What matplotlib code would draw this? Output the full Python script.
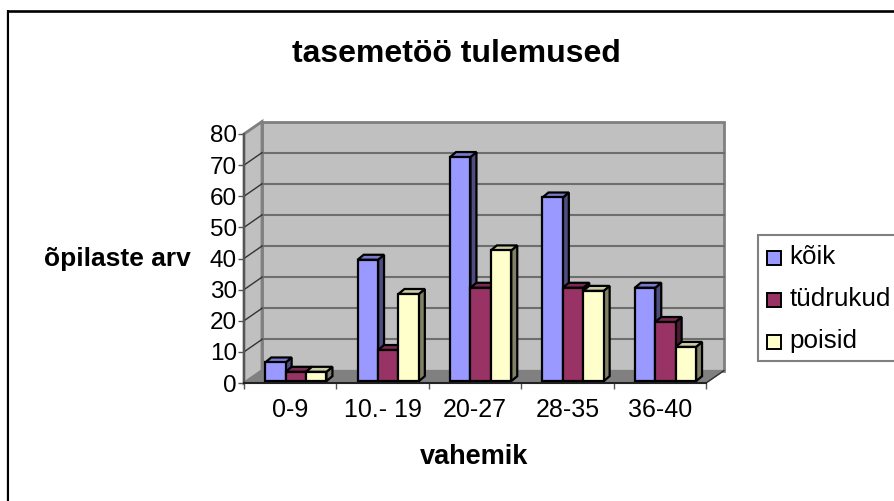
import numpy as np
import matplotlib
matplotlib.use('Agg')
import matplotlib.pyplot as plt
from matplotlib.patches import Polygon, Rectangle
from matplotlib.colors import to_rgb

categories = ['0-9', '10.- 19', '20-27', '28-35', '36-40']
series_names = ['kõik', 'tüdrukud', 'poisid']
koik = [6, 39, 72, 59, 30]
tydrukud = [3, 10, 30, 30, 19]
poisid = [3, 28, 42, 29, 11]
y_ticks = [0, 10, 20, 30, 40, 50, 60, 70, 80]
colors = ['#9999FF', '#993366', '#FFFFCC']

W, H = 895, 501
plt.rcParams['font.family'] = ['Liberation Sans', 'DejaVu Sans']
fig = plt.figure(figsize=(W / 100, H / 100), dpi=100)
# front plane of the fake 3d box, in pixels
L, R, T, B = 244, 706, 134, 383
ax = fig.add_axes([L / W, 1 - B / H, (R - L) / W, (B - T) / H])
ax.set_xlim(0, 5)
ax.set_ylim(0, 80)
ax.patch.set_visible(False)
for s in ax.spines.values():
    s.set_visible(False)

# depth of the box, in data units
dx = 18 / 92.4
dy = 4.0
wall = '#C0C0C0'
grid = '#6E6E6E'
edge = '#808080'


def poly(pts, fc, ec, lw=1.5, z=1):
    ax.add_patch(Polygon(pts, closed=True, fc=fc, ec=ec, lw=lw, zorder=z, clip_on=False,
                         joinstyle='miter'))


def shade(c, f):
    return tuple(v * f for v in to_rgb(c))


poly([(dx, dy), (5 + dx, dy), (5 + dx, 80 + dy), (dx, 80 + dy)], wall, edge, 2)
poly([(0, 0), (dx, dy), (dx, 80 + dy), (0, 80)], wall, edge, 2)
poly([(0, 0), (5, 0), (5 + dx, dy), (dx, dy)], '#808080', '#808080', 1)
for v in y_ticks[1:-1]:
    ax.plot([dx, 5 + dx], [v + dy, v + dy], color=grid, lw=1.5, zorder=2, clip_on=False)
    ax.plot([0, dx], [v, v + dy], color='#333333', lw=1, zorder=2, clip_on=False)
ax.plot([0, dx], [80, 80 + dy], color=edge, lw=1.5, zorder=2, clip_on=False)
ax.plot([5, 5 + dx], [0, dy], color='#333333', lw=1, zorder=2, clip_on=False)
ax.plot([0, 0], [0, 80], color='#555555', lw=1.5, zorder=3, clip_on=False)
ax.plot([0, 5], [0, 0], color='#222222', lw=1.5, zorder=3, clip_on=False)

# left to right keeps the overlap right
bw = 20.4 / 92.4
margin = 0.165
ox, oy = 6 / 92.4, 0.6
bx, by = 6 / 92.4, 1.6
for i in range(len(categories)):
    for j, vals in enumerate([koik, tydrukud, poisid]):
        x0 = i + margin + j * bw + ox
        x1 = x0 + bw
        v = vals[i]
        c = colors[j]
        z = 5 + i * 3 + j
        poly([(x1, oy), (x1 + bx, oy + by), (x1 + bx, v + oy + by), (x1, v + oy)],
             shade(c, 0.5), 'black', 1.6, z)
        poly([(x0, v + oy), (x1, v + oy), (x1 + bx, v + oy + by), (x0 + bx, v + oy + by)],
             shade(c, 0.8), 'black', 1.6, z)
        poly([(x0, oy), (x1, oy), (x1, v + oy), (x0, v + oy)], c, 'black', 1.6, z)

ax.set_xticks(range(6))
ax.set_xticklabels([])
ax.set_xticks(np.arange(5) + 0.5, minor=True)
ax.set_xticklabels(categories, minor=True, fontsize=18)
ax.tick_params(axis='x', which='major', length=4.5, width=1, color='#555555')
ax.tick_params(axis='x', which='minor', length=0, pad=11)
ax.set_yticks(y_ticks)
ax.set_yticklabels([str(v) for v in y_ticks], fontsize=17.5)
ax.tick_params(axis='y', length=4, width=1, color='#555555', pad=1)

# texts
fig.text(456 / W, 1 - 54 / H, 'tasemetöö tulemused', fontsize=23, fontweight='bold',
         ha='center', va='center')
fig.text(474 / W, 1 - 457 / H, 'vahemik', fontsize=19.5, fontweight='bold',
         ha='center', va='center')
fig.text(117 / W, 1 - 259 / H, 'õpilaste arv', fontsize=19, fontweight='bold',
         ha='center', va='center')

# legend by hand so the box runs off the right edge like the original
bg = fig.add_axes([0, 0, 1, 1], zorder=-1)
bg.set_xlim(0, W)
bg.set_ylim(H, 0)
bg.axis('off')
bg.plot([7.2, 7.2], [10, 501], color='#808080', lw=1, solid_capstyle='butt')
bg.plot([8.4, 8.4], [10, 501], color='black', lw=1.5, solid_capstyle='butt')
bg.plot([7, 895], [11.2, 11.2], color='black', lw=1.9, solid_capstyle='butt')
bg.add_patch(Rectangle((758, 235), 140, 126, fc='white', ec='#808080', lw=1.5))
for k, name in enumerate(series_names):
    yy = 258 + k * 42
    bg.add_patch(Rectangle((767.5, yy - 7), 14, 14, fc=colors[k], ec='black', lw=1.4))
    bg.text(789.5, yy - 1, name, fontsize=18.7, va='center', ha='left')

fig.savefig('out.png', dpi=100)
